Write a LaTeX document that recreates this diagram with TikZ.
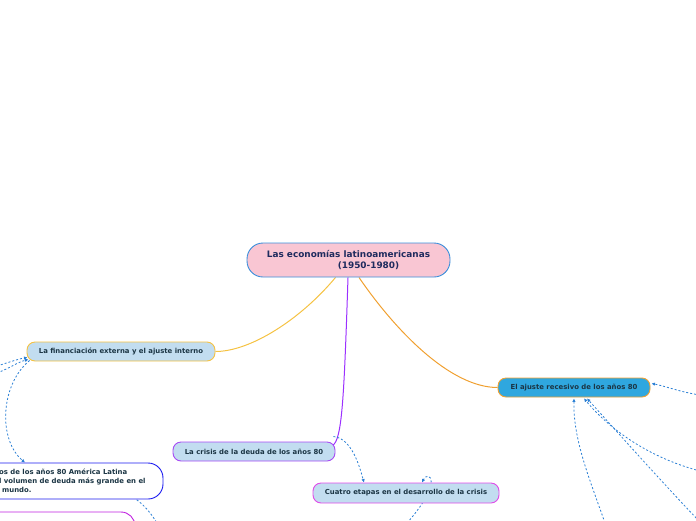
\documentclass[tikz,border=0pt]{standalone}
\usepackage{fontspec}
\setmainfont{DejaVu Sans}
\usetikzlibrary{arrows.meta,calc,backgrounds}
\definecolor{rootfill}{HTML}{F9C6D3}
\definecolor{rootline}{HTML}{3A8EDB}
\definecolor{rootink}{HTML}{1E2B5E}
\definecolor{lightfill}{HTML}{C2DDF0}
\definecolor{ink}{HTML}{1B3544}
\definecolor{fincol}{HTML}{F5C242}
\definecolor{crisiscol}{HTML}{A64BF4}
\definecolor{crisisline}{HTML}{9B30FF}
\definecolor{cuatrocol}{HTML}{E04AE8}
\definecolor{ajustefill}{HTML}{2FA7DF}
\definecolor{ajustecol}{HTML}{F0A030}
\definecolor{anoscol}{HTML}{1A1AF0}
\definecolor{purplecol}{HTML}{C020E0}
\definecolor{relcol}{HTML}{2A7FD4}
\tikzset{
  topicbox/.style={draw, line width=0.9pt, rounded corners=8pt, fill=lightfill,
    minimum height=19pt, inner sep=0pt, text=ink,
    font=\bfseries\fontsize{6.9}{8}\selectfont},
  smalltext/.style={text=ink, inner sep=0pt, font=\bfseries\fontsize{6.9}{9.2}\selectfont},
  relline/.style={draw=relcol, line width=0.8pt, dash pattern=on 2pt off 2pt},
  relarrow/.style={relline, -{Latex[length=3.5pt,width=3.5pt]}},
  branch/.style={line width=1pt}
}
\begin{document}
\begin{tikzpicture}[x=1pt,y=-1pt]
\useasboundingbox (0,0) rectangle (696,520);

% nodes
\node[draw=rootline, line width=0.9pt, fill=rootfill, rounded corners=16pt,
      minimum width=203pt, minimum height=34pt, inner sep=0pt, align=center,
      text=rootink, font=\bfseries\fontsize{8.9}{11}\selectfont]
  (root) at (348.5,260) {Las economías latinoamericanas\\\hspace*{40pt}(1950-1980)};

\node[topicbox, draw=fincol, minimum width=188pt] (fin) at (121,351.5)
  {La financiación externa y el ajuste interno};
\node[topicbox, draw=crisiscol, minimum width=162pt] (crisis) at (254,451.5)
  {La crisis de la deuda de los años 80};
\node[topicbox, draw=cuatrocol, minimum width=186pt, minimum height=20pt] (cuatro) at (406,493)
  {Cuatro etapas en el desarrollo de la crisis};
\node[topicbox, draw=ajustecol, fill=ajustefill, minimum width=152pt] (ajuste) at (574,387.5)
  {El ajuste recesivo de los años 80};

\node[draw=anoscol, line width=0.9pt, fill=white, rounded corners=15pt,
      minimum width=223pt, minimum height=36pt, inner sep=0pt] (anos) at (51.5,481) {};
\node[smalltext, anchor=west, align=left] (anostext) at (-1,481)
  {os de los años 80 América Latina\\l volumen de deuda más grande en el\\\hspace*{3pt}mundo.};

\node[draw=purplecol, line width=0.9pt, fill=white, rounded corners=14pt,
      minimum width=200pt, minimum height=36pt, inner sep=0pt] (lower) at (35,530) {};

% free ends
\coordinate (l1) at (-3,366);
\coordinate (l2) at (-3,373);
\coordinate (r1) at (700,395);
\coordinate (r2) at (700,471);
\coordinate (r3) at (699,521);
\coordinate (b1) at (605,523);
\coordinate (b2) at (407,523);
\coordinate (b3) at (157,523);

\begin{scope}[on background layer]
% main branches
\draw[branch, draw=fincol] ($(root.south)+(-13,0)$) .. controls (300,320) and (250,351.5) .. (fin.east);
\draw[branch, draw=crisisline] ($(root.south)+(-0.5,0)$) .. controls (344,400) and (342,440) .. ($(crisis.north east)+(-3,4)$);
\draw[branch, draw=ajustecol] ($(root.south)+(10.5,0)$) .. controls (395,330) and (450,387.5) .. (ajuste.west);

% relationship lines
\draw[relarrow] (l1) .. controls (10,362) and (18,359) .. ($(fin.west)+(1,6)$);
\draw[relarrow] (l2) .. controls (10,368) and (18,362) .. ($(fin.west)+(2,8)$);
\draw[relarrow] ($(fin.west)+(3,9)$) .. controls (0,385) and (-2,440) .. ($(anos.north)+(-26.5,0)$);
\draw[relline] ($(anos.south east)+(-30,-2)$) .. controls (145,505) and (152,515) .. (b3);
\draw[relarrow] ($(crisis.north east)+(-2,-5)$) .. controls (352,438) and (360,468) .. ($(cuatro.north)+(-42,0)$);
\draw[relarrow] (b2) .. controls (445,480) and (428,470) .. ($(cuatro.north)+(16,0)$);
\draw[relarrow] (r1) .. controls (680,392) and (665,386) .. ($(ajuste.east)+(1,-4)$);
\draw[relarrow] (b1) .. controls (590,480) and (573,440) .. ($(ajuste.south)+(0,1)$);
\draw[relarrow] (r2) .. controls (650,458) and (610,430) .. ($(ajuste.south)+(10,1)$);
\draw[relarrow] (r3) .. controls (660,480) and (620,435) .. ($(ajuste.south)+(13,1)$);
\end{scope}
\end{tikzpicture}
\end{document}
